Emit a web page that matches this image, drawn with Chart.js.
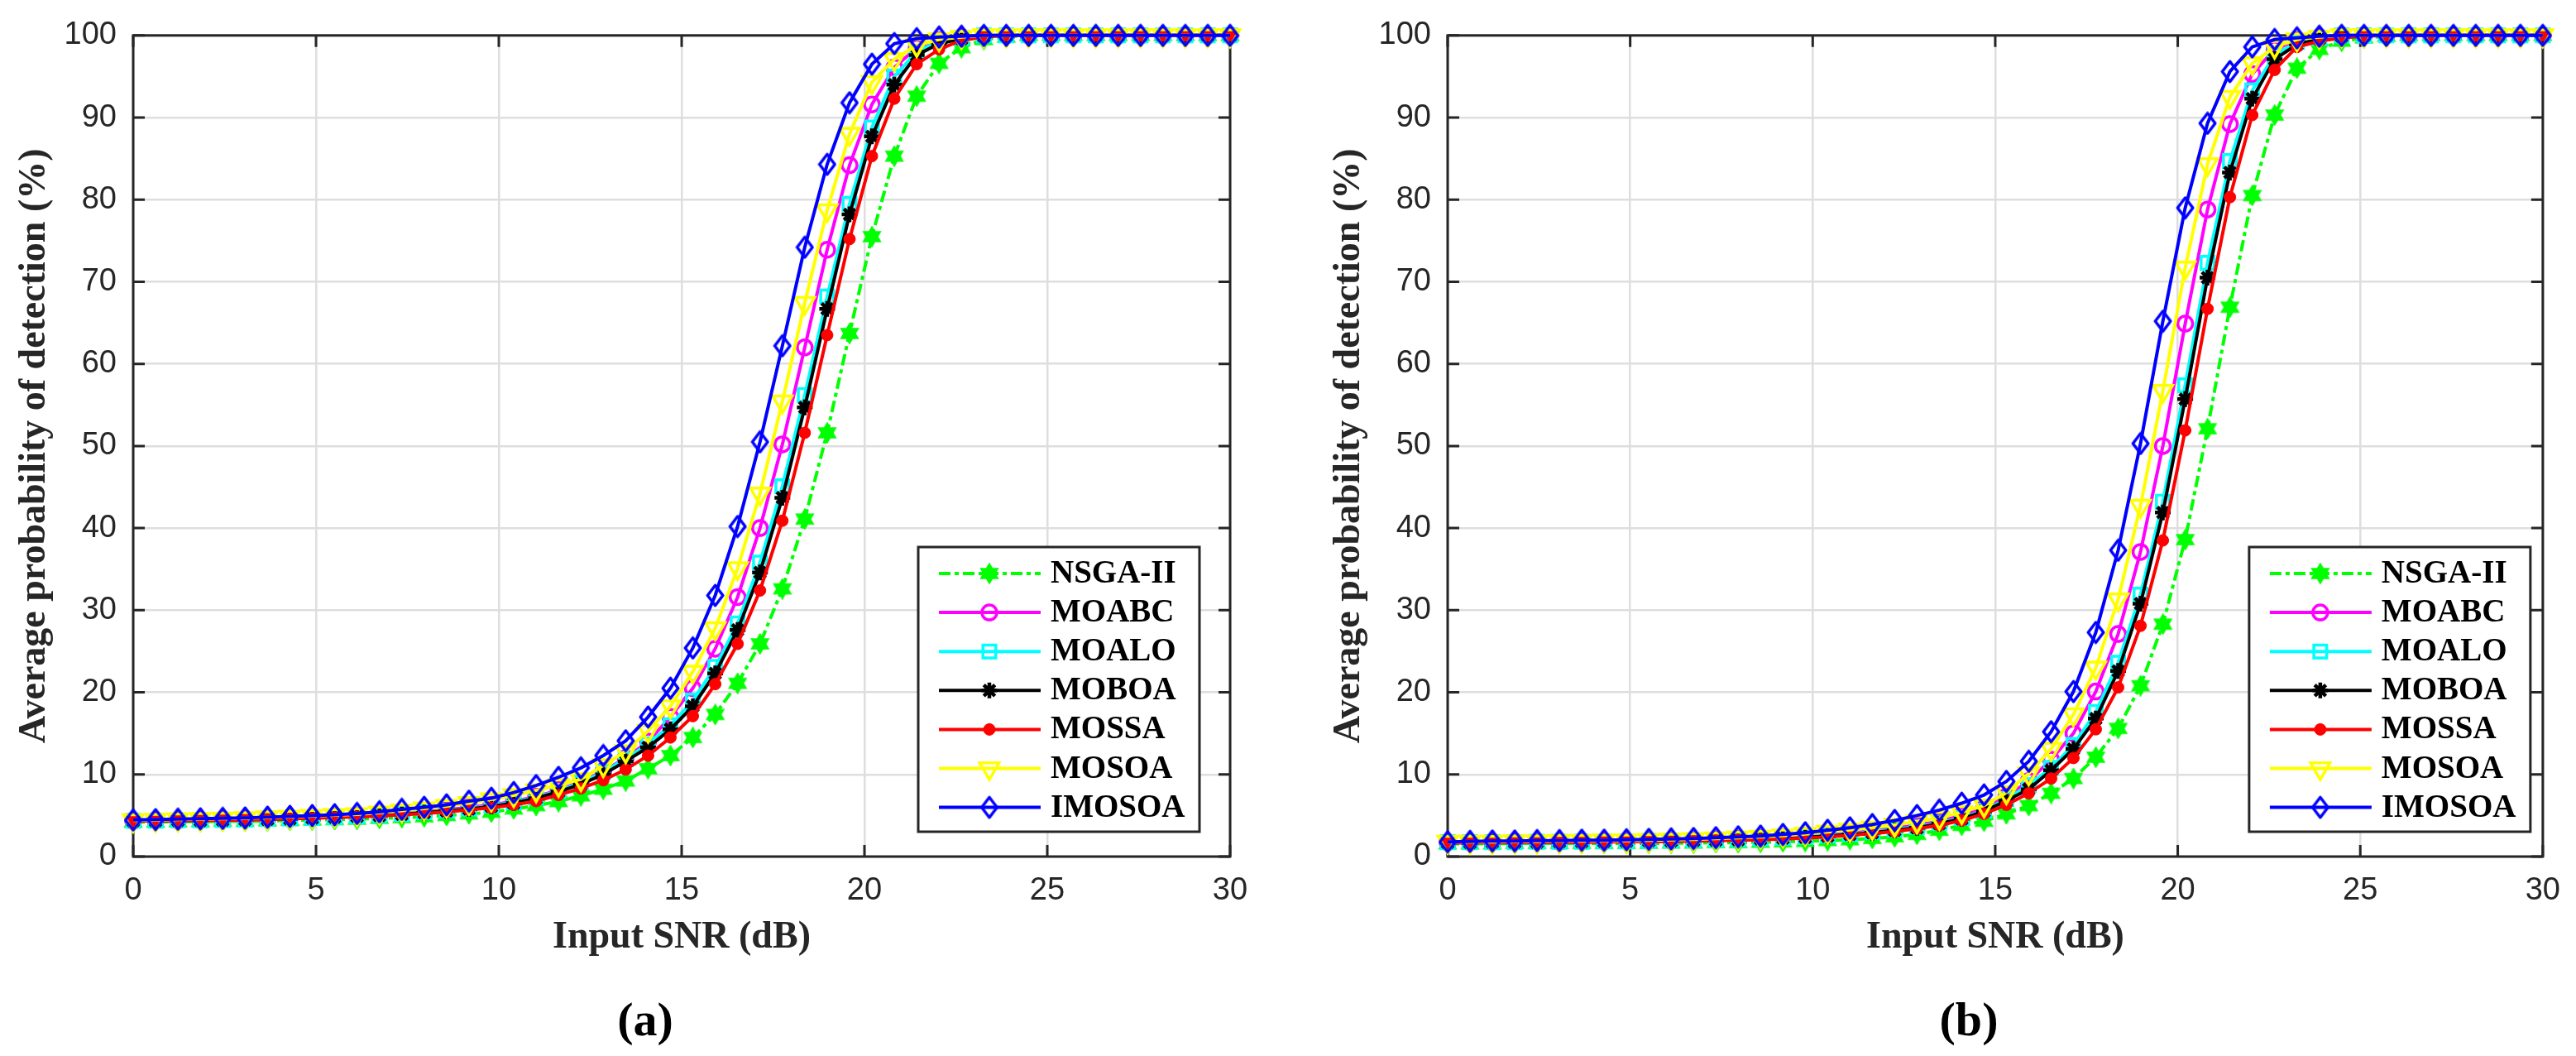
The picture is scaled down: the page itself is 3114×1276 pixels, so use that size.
<!DOCTYPE html>
<html><head><meta charset="utf-8">
<script src="https://cdn.jsdelivr.net/npm/chart.js@4.4.1/dist/chart.umd.min.js"></script>
<style>
html,body{margin:0;padding:0;background:#fff;}
#wrap{position:relative;width:3114px;height:1276px;overflow:hidden;background:#fff;}
canvas{position:absolute;top:0;}
.sub{position:absolute;font-family:"Liberation Serif","Times New Roman",serif;font-weight:bold;font-size:58px;color:#000;transform:translate(-50%,-50%);white-space:nowrap;line-height:1;}
</style></head><body>
<div id="wrap">
<canvas id="ca" width="1557" height="1276" style="left:0;width:1557px;height:1276px"></canvas>
<canvas id="cb" width="1525" height="1276" style="left:1589px;width:1525px;height:1276px"></canvas>
<div class="sub" style="left:780px;top:1232px">(a)</div>
<div class="sub" style="left:2380px;top:1232px">(b)</div>
</div>
<script>
// ---------- data ----------
const snr = [0,0.612,1.224,1.837,2.449,3.061,3.673,4.286,4.898,5.510,
 6.122,6.735,7.347,7.959,8.571,9.184,9.796,10.408,11.020,11.633,
 12.245,12.857,13.469,14.082,14.694,15.306,15.918,16.531,17.143,17.755,
 18.367,18.980,19.592,20.204,20.816,21.429,22.041,22.653,23.265,23.878,
 24.490,25.102,25.714,26.327,26.939,27.551,28.163,28.776,29.388,30];

const seriesNames = ['NSGA-II','MOABC','MOALO','MOBOA','MOSSA','MOSOA','IMOSOA'];
const xTicks = [0,5,10,15,20,25,30];
const yTicks = [0,10,20,30,40,50,60,70,80,90,100];

// panel (a)
const nsgaA = [4.2,4.2,4.25,4.25,4.3,4.3,4.35,4.4,4.45,4.5, 4.55,4.65,4.75,4.85,5.0,5.2,5.4,5.8,6.2,6.7, 7.4,8.2,9.2,10.7,12.3,14.5,17.3,21.1,25.9,32.6, 41.1,51.6,63.7,75.5,85.3,92.6,96.6,98.5,99.5,99.8, 100,100,100,100,100,100,100,100,100,100];
const moabcA = [4.35,4.4,4.4,4.45,4.5,4.55,4.6,4.7,4.75,4.85, 4.95,5.1,5.3,5.5,5.7,6.0,6.3,6.7,7.3,8.1, 9.1,10.4,12.0,14.0,17.0,20.5,25.3,31.6,40.0,50.2, 62.0,73.9,84.2,91.6,96.1,98.5,99.4,99.8,100,100, 100,100,100,100,100,100,100,100,100,100];
const moaloA = [4.35,4.35,4.4,4.4,4.45,4.5,4.6,4.65,4.7,4.8, 4.9,5.05,5.2,5.4,5.6,5.85,6.2,6.6,7.2,8.0, 9.0,10.3,11.9,13.7,16.0,19.0,23.1,28.4,35.8,45.1, 56.2,68.2,79.5,88.8,95.0,98.0,99.3,99.7,100,100, 100,100,100,100,100,100,100,100,100,100];
const moboaA = [4.35,4.35,4.4,4.4,4.45,4.5,4.55,4.6,4.7,4.8, 4.9,5.0,5.15,5.35,5.55,5.8,6.1,6.5,7.1,7.9, 8.8,10.0,11.6,13.3,15.5,18.3,22.3,27.6,34.6,43.7, 54.7,66.7,78.2,87.7,94.0,97.6,99.0,99.6,99.9,100, 100,100,100,100,100,100,100,100,100,100];
const mossaA = [4.3,4.35,4.35,4.4,4.4,4.45,4.5,4.6,4.65,4.75, 4.85,4.95,5.1,5.25,5.45,5.7,5.95,6.3,6.75,7.5, 8.3,9.3,10.6,12.3,14.5,17.1,21.0,25.9,32.4,40.9, 51.6,63.5,75.2,85.3,92.3,96.5,98.3,99.4,99.8,100, 100,100,100,100,100,100,100,100,100,100];
const mosoaA = [4.4,4.45,4.5,4.55,4.6,4.65,4.75,4.85,4.95,5.05, 5.15,5.35,5.6,5.85,6.15,6.5,6.95,7.45,8.05,8.7, 9.4,11.1,12.8,15.3,18.3,22.5,27.8,35.1,44.2,55.4, 67.4,78.7,88.0,94.3,97.1,98.8,99.5,99.8,100,100, 100,100,100,100,100,100,100,100,100,100];
const imosoaA = [4.45,4.5,4.55,4.6,4.65,4.7,4.8,4.9,5.0,5.1, 5.25,5.45,5.75,6.0,6.3,6.75,7.1,7.8,8.65,9.65, 10.8,12.3,14.1,17.0,20.5,25.4,31.8,40.2,50.5,62.2, 74.2,84.3,91.8,96.5,99.0,99.6,99.8,99.9,100,100, 100,100,100,100,100,100,100,100,100,100];

// panel (b)
const nsgaB = [1.55,1.55,1.55,1.6,1.6,1.6,1.6,1.6,1.6,1.6, 1.65,1.65,1.7,1.7,1.75,1.8,1.85,1.95,2.05,2.2, 2.4,2.7,3.2,3.8,4.3,5.2,6.2,7.7,9.5,12.1, 15.6,20.8,28.3,38.6,52.1,66.9,80.5,90.3,96.0,98.3, 99.3,99.7,99.9,100,100,100,100,100,100,100];
const moabcB = [1.75,1.75,1.75,1.8,1.8,1.8,1.85,1.85,1.9,1.9, 1.95,2.0,2.1,2.15,2.25,2.35,2.5,2.7,2.9,3.15, 3.45,3.8,4.3,5.0,5.9,7.3,9.2,11.8,15.0,20.1, 27.1,37.1,50.0,64.9,78.8,89.2,95.3,98.3,99.4,99.8, 100,100,100,100,100,100,100,100,100,100];
const moaloB = [1.75,1.75,1.75,1.75,1.8,1.8,1.8,1.85,1.85,1.9, 1.95,2.0,2.05,2.1,2.2,2.3,2.4,2.55,2.75,3.0, 3.3,3.6,4.1,4.7,5.6,7.0,8.7,10.8,13.6,17.6, 23.6,31.9,43.2,57.4,72.3,84.7,93.3,97.6,99.2,99.7, 100,100,100,100,100,100,100,100,100,100];
const moboaB = [1.7,1.7,1.75,1.75,1.75,1.8,1.8,1.85,1.85,1.9, 1.9,1.95,2.0,2.05,2.15,2.25,2.35,2.5,2.7,2.9, 3.2,3.5,4.0,4.6,5.5,6.8,8.2,10.5,13.1,16.8, 22.6,30.8,41.9,55.7,70.5,83.3,92.3,97.1,98.9,99.6, 99.9,100,100,100,100,100,100,100,100,100];
const mossaB = [1.7,1.7,1.7,1.7,1.75,1.75,1.75,1.8,1.8,1.85, 1.85,1.9,1.95,2.0,2.05,2.15,2.25,2.4,2.6,2.8, 3.05,3.4,3.8,4.4,5.2,6.3,7.7,9.5,12.0,15.5, 20.6,28.1,38.5,51.9,66.7,80.3,90.3,95.8,98.6,99.3, 99.7,99.9,100,100,100,100,100,100,100,100];
const mosoaB = [1.8,1.8,1.8,1.85,1.85,1.9,1.9,1.95,1.95,2.0, 2.05,2.1,2.2,2.3,2.4,2.55,2.75,3.0,3.25,3.5, 3.85,4.25,4.7,5.4,6.2,7.8,10.1,13.1,17.3,23.0, 31.3,42.7,56.7,71.7,84.3,92.5,96.6,98.6,99.5,99.8, 100,100,100,100,100,100,100,100,100,100];
const imosoaB = [1.8,1.85,1.9,1.9,1.95,1.95,2.0,2.0,2.05,2.1, 2.15,2.2,2.3,2.4,2.5,2.7,2.9,3.2,3.5,3.9, 4.4,5.0,5.65,6.5,7.5,9.15,11.6,15.2,20.1,27.3, 37.3,50.3,65.2,79.0,89.3,95.6,98.6,99.5,99.7,99.9, 100,100,100,100,100,100,100,100,100,100];

// ---------- marker images ----------
function makeHexagram(d, color){
  const c=document.createElement('canvas'); c.width=d; c.height=d;
  const g=c.getContext('2d'); g.fillStyle=color; g.strokeStyle=color; g.lineWidth=1.5;
  const r=d/2-1, cx=d/2, cy=d/2;
  g.beginPath();
  for(let i=0;i<12;i++){ const a=-Math.PI/2+i*Math.PI/6; const rr=(i%2===0)?r:r*0.58; g.lineTo(cx+rr*Math.cos(a), cy+rr*Math.sin(a)); }
  g.closePath(); g.fill(); g.stroke(); return c;
}
function makeDiamond(w,h,color,lw){
  const c=document.createElement('canvas'); c.width=w; c.height=h;
  const g=c.getContext('2d'); g.strokeStyle=color; g.lineWidth=lw; g.lineJoin='round';
  const m=lw/2+0.5;
  g.beginPath(); g.moveTo(w/2,m); g.lineTo(w-m,h/2); g.lineTo(w/2,h-m); g.lineTo(m,h/2); g.closePath(); g.stroke();
  return c;
}
const hexImg = makeHexagram(26,'#00ff00');
const diaImg = makeDiamond(23,29,'#0000ff',3.5);
const NONE='rgba(0,0,0,0)';

const styles = [
  {color:'#00ff00', fill:'#00ff00', style:hexImg, r:12, pbw:0, dash:[14,5,5,5]},
  {color:'#ff00ff', fill:NONE, style:'circle', r:9, pbw:3.5},
  {color:'#00ffff', fill:NONE, style:'rect', r:11, pbw:3.5},
  {color:'#000000', fill:'#000000', style:'star', r:9.5, pbw:4.5},
  {color:'#ff0000', fill:'#ff0000', style:'circle', r:7, pbw:1},
  {color:'#ffff00', fill:NONE, style:'triangle', r:13.5, pbw:3.5, rot:180},
  {color:'#0000ff', fill:NONE, style:diaImg, r:12, pbw:0}
];

// ---------- frame / ticks / legend plugin ----------
const framePlugin = {
  id:'frame',
  beforeDatasetsDraw(chart){
    const {ctx, chartArea:a, scales:{x,y}} = chart;
    ctx.save(); ctx.strokeStyle='#262626'; ctx.lineWidth=3; ctx.lineCap='butt';
    ctx.beginPath();
    x.ticks.forEach(t=>{ const px=x.getPixelForValue(t.value);
      ctx.moveTo(px,a.bottom); ctx.lineTo(px,a.bottom-14); ctx.moveTo(px,a.top); ctx.lineTo(px,a.top+14); });
    y.ticks.forEach(t=>{ const py=y.getPixelForValue(t.value);
      ctx.moveTo(a.left,py); ctx.lineTo(a.left+14,py); ctx.moveTo(a.right,py); ctx.lineTo(a.right-14,py); });
    ctx.stroke();
    ctx.strokeRect(a.left,a.top,a.right-a.left,a.bottom-a.top);
    ctx.restore();
  },
  afterDatasetsDraw(chart, args, opts){
    const {ctx, chartArea:a} = chart;
    const w=340, h=344;
    const bx=a.right-opts.gapRight-w, by=a.bottom-30-h;
    ctx.save();
    ctx.fillStyle='#fff'; ctx.fillRect(bx,by,w,h);
    ctx.strokeStyle='#262626'; ctx.lineWidth=3; ctx.strokeRect(bx,by,w,h);
    chart.data.datasets.forEach((ds,i)=>{
      const cy=by+32+i*47.1;
      ctx.save(); ctx.strokeStyle=ds.borderColor; ctx.lineWidth=ds.borderWidth; ctx.lineCap='butt';
      ctx.setLineDash(ds.borderDash||[]); ctx.beginPath(); ctx.moveTo(bx+25,cy); ctx.lineTo(bx+148,cy); ctx.stroke(); ctx.restore();
      ctx.save(); ctx.strokeStyle=ds.pointBorderColor; ctx.fillStyle=ds.pointBackgroundColor; ctx.lineWidth=ds.pointBorderWidth;
      if (Chart.helpers && Chart.helpers.drawPoint) {
        Chart.helpers.drawPoint(ctx,{pointStyle:ds.pointStyle, rotation:ds.pointRotation||0, radius:ds.pointRadius, borderWidth:ds.pointBorderWidth}, bx+86, cy);
      }
      ctx.restore();
      ctx.fillStyle='#000'; ctx.font='bold 39px "Liberation Serif"'; ctx.textBaseline='middle'; ctx.textAlign='left';
      ctx.fillText(ds.label, bx+160, cy+1);
    });
    ctx.restore();
  }
};

function makeChart(id, values, padRight, gapRight){
  const datasets = values.map((vals,i)=>{
    const s=styles[i];
    return {
      label: seriesNames[i],
      data: snr.map((x,j)=>({x:x, y:vals[j]})),
      borderColor:s.color, backgroundColor:s.fill, borderWidth:4, borderDash:s.dash||[],
      pointStyle:s.style, pointRadius:s.r, pointBorderWidth:s.pbw, pointRotation:s.rot||0,
      pointBackgroundColor:s.fill, pointBorderColor:s.color,
      tension:0, fill:false, clip:false, order:6-i
    };
  });
  return new Chart(document.getElementById(id), {
    type:'line',
    data:{datasets},
    plugins:[framePlugin],
    options:{
      responsive:false, animation:false, devicePixelRatio:1, events:[],
      layout:{padding:{left:0,right:padRight,top:33,bottom:111}},
      plugins:{legend:{display:false}, tooltip:{enabled:false}, title:{display:false}, frame:{gapRight:gapRight}},
      scales:{
        x:{type:'linear', min:0, max:30,
          afterBuildTicks(s){ s.ticks = xTicks.map(v=>({value:v})); },
          ticks:{font:{family:'Liberation Sans', size:38}, color:'#262626', padding:19, maxRotation:0, autoSkip:false},
          grid:{color:'#dedede', lineWidth:2.5, drawTicks:false}, border:{display:false},
          title:{display:true, text:'Input SNR (dB)', color:'#262626', font:{family:'Liberation Serif', size:46, weight:'bold'}, padding:{top:0,bottom:4}},
          afterFit(s){ s.height=130; }
        },
        y:{type:'linear', min:0, max:100,
          afterBuildTicks(s){ s.ticks = yTicks.map(v=>({value:v})); },
          ticks:{font:{family:'Liberation Sans', size:38}, color:'#262626', padding:20, autoSkip:false},
          grid:{color:'#dedede', lineWidth:2.5, drawTicks:false}, border:{display:false},
          title:{display:true, text:'Average probability of detection (%)', color:'#262626', font:{family:'Liberation Serif', size:46, weight:'bold'}, padding:{top:15,bottom:0}},
          afterFit(s){ s.width=161; }
        }
      }
    }
  });
}

makeChart('ca', [nsgaA,moabcA,moaloA,moboaA,mossaA,mosoaA,imosoaA], 70, 37);
makeChart('cb', [nsgaB,moabcB,moaloB,moboaB,mossaB,mosoaB,imosoaB], 36, 15);
</script>
</body></html>
